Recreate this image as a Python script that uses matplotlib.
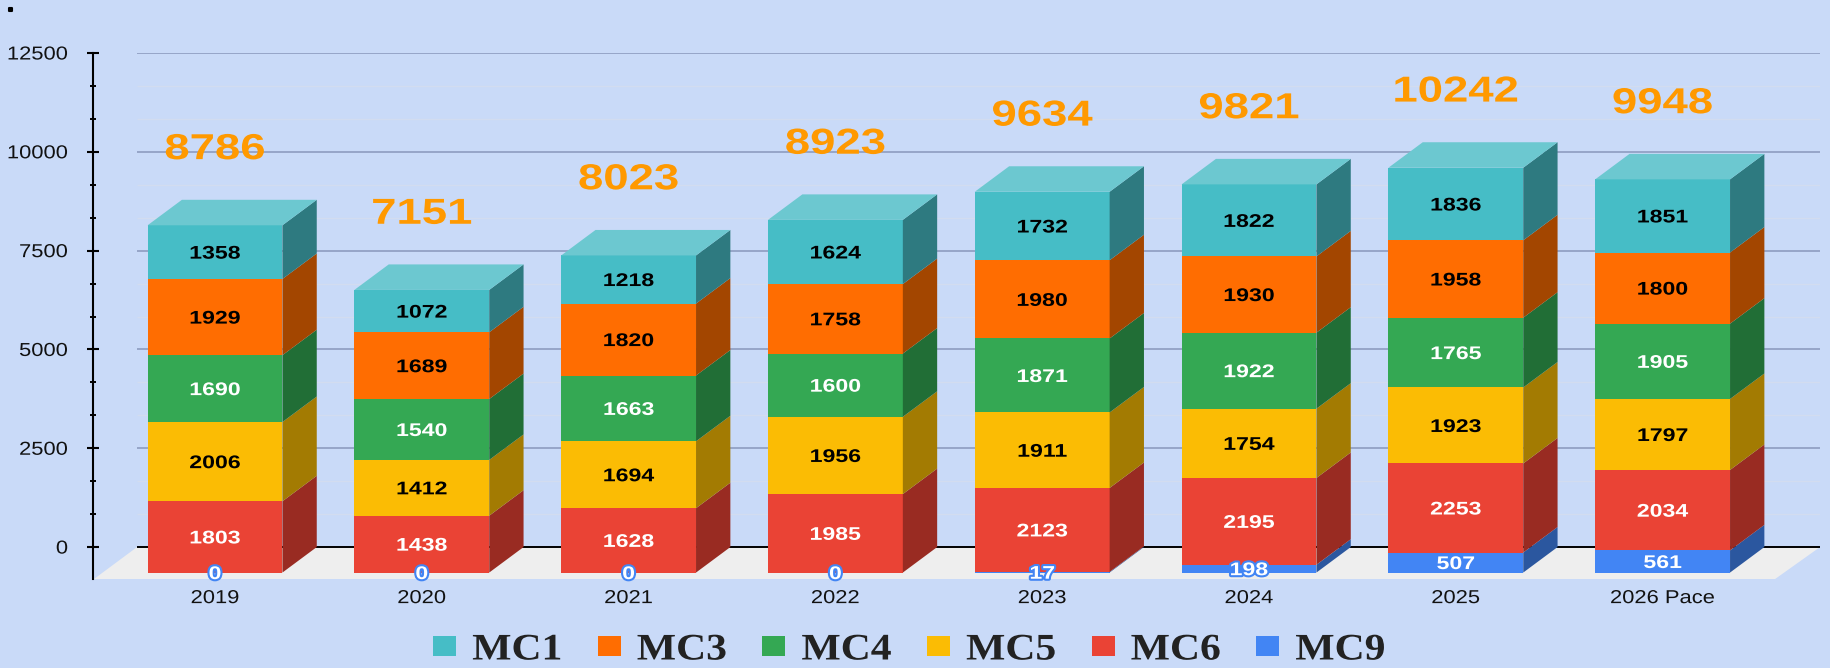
import matplotlib
matplotlib.use('Agg')
import matplotlib.pyplot as plt
import matplotlib.patheffects as pe
from matplotlib.colors import to_rgb
from matplotlib.patches import Patch
from matplotlib.transforms import Affine2D

years = ['2019', '2020', '2021', '2022', '2023', '2024', '2025', '2026 Pace']
totals = [8786, 7151, 8023, 8923, 9634, 9821, 10242, 9948]

# stacked bottom to top
mc9 = [0, 0, 0, 0, 17, 198, 507, 561]
mc6 = [1803, 1438, 1628, 1985, 2123, 2195, 2253, 2034]
mc5 = [2006, 1412, 1694, 1956, 1911, 1754, 1923, 1797]
mc4 = [1690, 1540, 1663, 1600, 1871, 1922, 1765, 1905]
mc3 = [1929, 1689, 1820, 1758, 1980, 1930, 1958, 1800]
mc1 = [1358, 1072, 1218, 1624, 1732, 1822, 1836, 1851]

series = [mc9, mc6, mc5, mc4, mc3, mc1]
names = ['MC9', 'MC6', 'MC5', 'MC4', 'MC3', 'MC1']
front = ['#4285F4', '#EA4335', '#FBBC04', '#34A853', '#FF6D01', '#46BDC6']
side = ['#2B579F', '#992B22', '#A37B02', '#216E36', '#A34600', '#2E7A80']
text_col = ['white', 'white', 'black', 'white', 'black', 'black']
top_col = '#6CC8D0'
bg = '#C9DAF8'

# 3d look
base = -645
dy = 645
dx = 0.166
w = 0.652


# the reference is stretched sideways, so the text gets stretched too
class Stretch(pe.AbstractPathEffect):
    def __init__(self, sx, anchor='center', halo=None, halo_w=3):
        super().__init__()
        self.sx = sx
        self.anchor = anchor
        self.halo = halo
        self.halo_w = halo_w

    def draw_path(self, renderer, gc, tpath, affine, rgbFace=None):
        ext = tpath.get_extents()
        x0 = {'left': ext.x0, 'right': ext.x1, 'center': (ext.x0 + ext.x1) / 2}[self.anchor]
        aff = Affine2D().translate(-x0, 0).scale(self.sx, 1).translate(x0, 0) + affine
        if self.halo:
            gc0 = renderer.new_gc()
            gc0.copy_properties(gc)
            gc0.set_linewidth(self.halo_w)
            gc0.set_foreground(self.halo)
            renderer.draw_path(gc0, tpath, aff, to_rgb(self.halo))
            gc0.restore()
        renderer.draw_path(gc, tpath, aff, rgbFace)


plt.rcParams['font.family'] = ['Liberation Sans', 'DejaVu Sans']

fig = plt.figure(figsize=(18.31, 6.68), dpi=100, facecolor=bg)
ax = fig.add_axes([92.6 / 1831, (668 - 579) / 668, (1820 - 92.6) / 1831, (579 - 53) / 668])
ax.patch.set_visible(False)
ax.set_xlim(-0.5919, 7.761)
ax.set_ylim(-808, 12500)

# floor
ax.fill([-0.585, -0.377, 7.761, 7.544], [-808, 0, 0, -808], color='#EEEEEE', lw=0, zorder=1)

# grid
major = [2500, 5000, 7500, 10000, 12500]
minor = [i * 2500 / 3 for i in range(16) if i % 3]
ax.hlines(minor, -0.377, 7.761, color='#D2DCF0', lw=1, zorder=1)
ax.hlines(major, -0.377, 7.761, color='#8E9CC0', lw=1.2, zorder=1)
ax.hlines(0, -0.377, 7.761, color='black', lw=1.4, zorder=2)

x = list(range(len(years)))
for i in x:
    bottom = base
    for s, vals in enumerate(series):
        v = vals[i]
        if v > 0:
            ax.bar(i, v, bottom=bottom, width=w, color=front[s], lw=0, zorder=3)
            r = i + w / 2
            ax.fill([r, r + dx, r + dx, r],
                    [bottom, bottom + dy, bottom + v + dy, bottom + v],
                    color=side[s], lw=0, zorder=3)
        # small ones do not fit and get an outline
        if v < 200:
            ef = [Stretch(1.26, halo='#4285F4')]
        else:
            ef = [Stretch(1.26)]
        ax.text(i, bottom + v / 2, str(v), color=text_col[s], fontsize=13.2, fontweight='bold',
                ha='center', va='center_baseline', zorder=5, path_effects=ef)
        bottom += v
    l = i - w / 2
    r = i + w / 2
    ax.fill([l, r, r + dx, l + dx], [bottom, bottom, bottom + dy, bottom + dy],
            color=top_col, lw=0, zorder=3)
    ax.annotate(str(totals[i]), (i, totals[i]), xytext=(0, 39), textcoords='offset points',
                color='#FF9900', fontsize=26, fontweight='bold', ha='center', va='center_baseline',
                zorder=6, path_effects=[Stretch(1.26)])

# axes
for k in ['top', 'right', 'bottom']:
    ax.spines[k].set_visible(False)
ax.spines['left'].set_linewidth(1.5)
ax.set_yticks([0] + major)
ax.set_yticks(minor, minor=True)
ax.tick_params(axis='y', which='major', direction='inout', length=8.4, width=1.5, pad=13.5,
               labelsize=13.5, labelcolor='#111111')
ax.tick_params(axis='y', which='minor', direction='inout', length=4.3, width=1.4)
ax.set_xticks(x, labels=years)
ax.tick_params(axis='x', length=0, pad=8, labelsize=13.5, labelcolor='#111111')
for t in ax.get_yticklabels():
    t.set_path_effects([Stretch(1.17, anchor='right')])
for t in ax.get_xticklabels():
    t.set_path_effects([Stretch(1.17)])

# legend
handles = [Patch(color=front[s], lw=0, label=names[s]) for s in range(5, -1, -1)]
leg = fig.legend(handles=handles, loc='center', bbox_to_anchor=(905 / 1831, 1 - 650 / 668), ncols=6,
                 frameon=False, borderpad=0, handlelength=0.61, handleheight=0.45, handletextpad=0.43,
                 columnspacing=1.18, prop={'family': 'Liberation Serif', 'weight': 'bold', 'size': 27})
for t in leg.get_texts():
    t.set_color('#222222')
    t.set_path_effects([Stretch(1.11, anchor='left')])

# stray dot in the top left corner
fig.text(9 / 1831, 1 - 10.5 / 668, '.', color='black', fontsize=10, fontweight='bold', va='baseline',
         path_effects=[Stretch(1.5, halo='black', halo_w=1.5)])

fig.savefig('out.png', dpi=100, facecolor=bg)
